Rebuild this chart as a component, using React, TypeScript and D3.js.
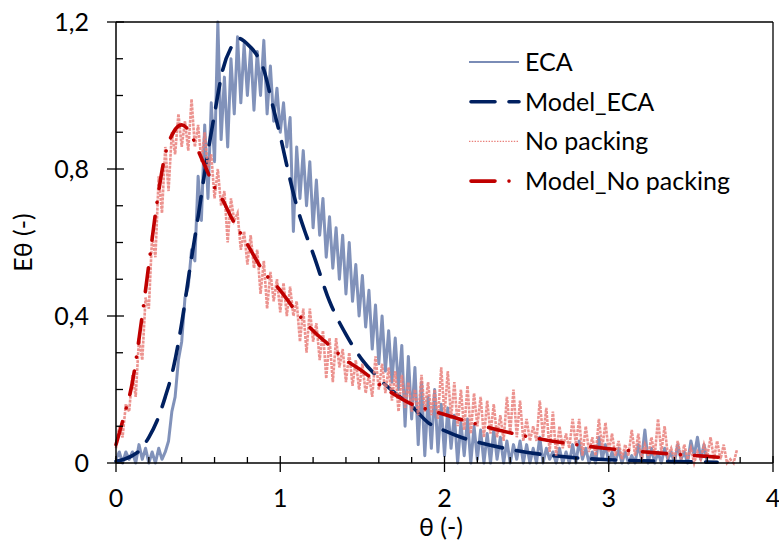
import React from "react";
import * as d3 from "d3";

// ---------- data ----------
const X_TICKS = [0, 1, 2, 3, 4];
const Y_TICKS = [0, 0.4, 0.8, 1.2];
const SERIES_NAMES = ["ECA", "Model_ECA", "No packing", "Model_No packing"];

// ECA experimental (theta = 0, 0.02, 0.04, ... 3.60)
const ECA_STEP = 0.02;
const ECA = [
  0.01, 0.03, 0.0, 0.03, 0.01, 0.03, 0.0, 0.05, 0.01, 0.04,
  0.0, 0.03, 0.0, 0.04, 0.01, 0.03, 0.06, 0.14, 0.18, 0.28,
  0.33, 0.45, 0.48, 0.58, 0.55, 0.78, 0.66, 0.92, 0.72, 0.98,
  0.82, 1.2, 0.88, 1.05, 0.86, 1.1, 0.95, 1.16, 0.98, 1.14,
  1.0, 1.13, 0.96, 1.12, 1.0, 1.15, 0.95, 1.08, 0.93, 1.02,
  0.9, 0.98, 0.86, 0.94, 0.63, 0.86, 0.72, 0.85, 0.7, 0.82,
  0.64, 0.77, 0.62, 0.72, 0.56, 0.67, 0.53, 0.64, 0.5, 0.62,
  0.46, 0.6, 0.44, 0.54, 0.4, 0.51, 0.37, 0.47, 0.31, 0.43,
  0.27, 0.4, 0.25, 0.36, 0.22, 0.34, 0.2, 0.32, 0.1, 0.29,
  0.12, 0.26, 0.05, 0.22, 0.02, 0.18, 0.04, 0.2, 0.03, 0.16,
  0.02, 0.15, 0.04, 0.13, 0.0, 0.11, 0.02, 0.12, 0.0, 0.1,
  0.01, 0.09, 0.0, 0.08, 0.0, 0.09, 0.01, 0.07, 0.0, 0.06,
  0.0, 0.05, 0.01, 0.06, 0.0, 0.05, 0.0, 0.04, 0.0, 0.07,
  0.0, 0.04, 0.01, 0.03, 0.0, 0.04, 0.0, 0.03, 0.0, 0.05,
  0.0, 0.06, 0.01, 0.04, 0.0, 0.03, 0.0, 0.07, 0.01, 0.05,
  0.0, 0.03, 0.0, 0.04, 0.0, 0.03, 0.0, 0.02, 0.0, 0.05,
  0.01, 0.09, 0.0, 0.04, 0.0, 0.03, 0.0, 0.04, 0.01, 0.03,
  0.0, 0.05, 0.01, 0.03, 0.0, 0.06, 0.02, 0.07, 0.01, 0.05,
  0.0,
];

// No packing experimental (theta = 0, 0.02, ... 3.78)
const NOPACK_STEP = 0.02;
const NOPACK = [
  0.04, 0.1, 0.07, 0.16, 0.14, 0.24, 0.18, 0.34, 0.28, 0.45,
  0.42, 0.62, 0.56, 0.78, 0.68, 0.86, 0.74, 0.9, 0.84, 0.95,
  0.86, 0.93, 0.85, 0.99, 0.86, 0.92, 0.82, 0.9, 0.8, 0.84,
  0.72, 0.8, 0.7, 0.74, 0.6, 0.72, 0.66, 0.68, 0.58, 0.63,
  0.54, 0.62, 0.53, 0.58, 0.46, 0.55, 0.42, 0.52, 0.44, 0.5,
  0.41, 0.49, 0.4, 0.48, 0.4, 0.44, 0.33, 0.42, 0.3, 0.42,
  0.33, 0.38, 0.28, 0.36, 0.23, 0.34, 0.22, 0.34, 0.26, 0.31,
  0.22, 0.3, 0.21, 0.28, 0.2, 0.27, 0.19, 0.24, 0.18, 0.29,
  0.2, 0.27, 0.19, 0.26, 0.17, 0.25, 0.14, 0.24, 0.15, 0.22,
  0.14, 0.2, 0.13, 0.24, 0.14, 0.22, 0.13, 0.2, 0.12, 0.26,
  0.13, 0.25, 0.12, 0.22, 0.1, 0.2, 0.09, 0.21, 0.08, 0.19,
  0.1, 0.18, 0.07, 0.17, 0.08, 0.16, 0.07, 0.13, 0.06, 0.18,
  0.08, 0.2, 0.07, 0.17, 0.06, 0.12, 0.06, 0.1, 0.06, 0.17,
  0.07, 0.15, 0.03, 0.14, 0.02, 0.1, 0.04, 0.08, 0.04, 0.12,
  0.05, 0.12, 0.02, 0.1, 0.03, 0.07, 0.02, 0.12, 0.04, 0.11,
  0.03, 0.08, 0.02, 0.06, 0.01, 0.05, 0.02, 0.09, 0.02, 0.08,
  0.01, 0.05, 0.02, 0.07, 0.02, 0.12, 0.03, 0.1, 0.02, 0.04,
  0.01, 0.06, 0.01, 0.05, 0.01, 0.04, 0.0, 0.03, 0.01, 0.05,
  0.02, 0.07, 0.01, 0.06, 0.01, 0.05, 0.0, 0.01, 0.0, 0.035,
];

// Model curves
const MODEL_ECA_THETA = [
  0, 0.05, 0.1, 0.15, 0.2, 0.25, 0.3, 0.35, 0.4, 0.45, 0.5, 0.55, 0.6, 0.65,
  0.7, 0.75, 0.8, 0.85, 0.9, 0.95, 1.0, 1.05, 1.1, 1.15, 1.2, 1.3, 1.4, 1.5,
  1.6, 1.7, 1.8, 1.9, 2.0, 2.1, 2.2, 2.4, 2.6, 2.8, 3.0, 3.2, 3.4, 3.66,
];
const MODEL_ECA = [
  0.005, 0.01, 0.02, 0.037, 0.07, 0.115, 0.18, 0.26, 0.38, 0.53, 0.67, 0.82,
  0.95, 1.07, 1.13, 1.155, 1.14, 1.115, 1.07, 0.98, 0.89, 0.79, 0.7, 0.63,
  0.57, 0.44, 0.35, 0.28, 0.23, 0.19, 0.155, 0.11, 0.088, 0.07, 0.057, 0.037,
  0.023, 0.014, 0.009, 0.006, 0.004, 0.002,
];
const MODEL_NP_THETA = [
  0, 0.05, 0.1, 0.15, 0.2, 0.25, 0.3, 0.35, 0.4, 0.45, 0.5, 0.55, 0.6, 0.65,
  0.7, 0.8, 0.9, 1.0, 1.1, 1.2, 1.3, 1.4, 1.5, 1.6, 1.7, 1.8, 1.9, 2.0, 2.2,
  2.4, 2.6, 2.8, 3.0, 3.2, 3.4, 3.6, 3.72,
];
const MODEL_NP = [
  0.05, 0.13, 0.22, 0.37, 0.54, 0.71, 0.84, 0.9, 0.92, 0.9, 0.85, 0.8, 0.75,
  0.715, 0.67, 0.595, 0.52, 0.47, 0.41, 0.36, 0.32, 0.28, 0.25, 0.215, 0.185,
  0.16, 0.145, 0.132, 0.105, 0.082, 0.064, 0.05, 0.039, 0.031, 0.024, 0.018,
  0.014,
];

// ---------- styles ----------
const FONT = "Lato, 'Liberation Sans', sans-serif";
const C_ECA = "#7a8cb6";
const C_MECA = "#002060";
const C_NP = "#e9807b";
const C_MNP = "#c00000";

const locale = d3.formatLocale({ decimal: ",", thousands: ".", grouping: [3], currency: ["", ""] });
const fmt = locale.format("~g");

export default function App() {
  const W = 779, H = 545;
  const x = d3.scaleLinear().domain([0, 4]).range([116, 773]);
  const y = d3.scaleLinear().domain([0, 1.2]).range([463, 22]);

  const ecaPts: [number, number][] = ECA.map((v, i) => [i * ECA_STEP, v]);
  const npPts: [number, number][] = NOPACK.map((v, i) => [i * NOPACK_STEP, v]);
  const mEcaPts: [number, number][] = MODEL_ECA.map((v, i) => [MODEL_ECA_THETA[i], v]);
  const mNpPts: [number, number][] = MODEL_NP.map((v, i) => [MODEL_NP_THETA[i], v]);

  const raw = d3.line<[number, number]>().x((d) => x(d[0])).y((d) => y(d[1]));
  const smooth = d3
    .line<[number, number]>()
    .x((d) => x(d[0]))
    .y((d) => y(d[1]))
    .curve(d3.curveMonotoneX);

  const xMinor = d3.range(0, 4.001, 0.2).filter((v) => Math.abs(v - Math.round(v)) > 1e-6);
  const yMinor = d3.range(0, 1.2001, 0.1).filter((v) => !Y_TICKS.some((t) => Math.abs(t - v) < 1e-6));

  const [x0, x1] = x.range();
  const [y0, y1] = y.range();

  const legendX = 469, legendW = 50, legendY0 = 62, legendDy = 39.7;
  const styles = [
    { stroke: C_ECA, width: 2, dash: undefined as string | undefined, cap: "butt" },
    { stroke: C_MECA, width: 3.6, dash: "24 14", cap: "round" },
    { stroke: C_NP, width: 1.4, dash: "1.4 1.4", cap: "butt" },
    { stroke: C_MNP, width: 3.6, dash: "24 14 0.01 14", cap: "round" },
  ];

  return (
    <svg width={W} height={H} style={{ position: "absolute", left: 0, top: 0, background: "#fff" }} fontFamily={FONT}>
      <rect x={0} y={0} width={W} height={H} fill="#fff" />
      {/* data */}
      <path d={raw(ecaPts) || ""} fill="none" stroke={C_ECA} strokeWidth={3} strokeOpacity={0.95} strokeLinejoin="round" />
      <path d={smooth(mEcaPts) || ""} fill="none" stroke={C_MECA} strokeWidth={3.6} strokeDasharray="24 14" strokeLinecap="round" />
      <path d={raw(npPts) || ""} fill="none" stroke={C_NP} strokeWidth={2.6} strokeDasharray="3 1" strokeOpacity={0.85} />
      <path d={smooth(mNpPts) || ""} fill="none" stroke={C_MNP} strokeWidth={3.6} strokeDasharray="24 14 0.01 14" strokeLinecap="round" />

      {/* frame */}
      <line x1={x0} x2={x1} y1={y1} y2={y1} stroke="#000" strokeWidth={1.3} />
      <line x1={x1} x2={x1} y1={y1} y2={y0} stroke="#000" strokeWidth={1.3} />
      <line x1={x0} x2={x1} y1={y0} y2={y0} stroke="#000" strokeWidth={1.5} />
      <line x1={x0} x2={x0} y1={y1} y2={y0} stroke="#000" strokeWidth={1.5} />

      {/* x ticks */}
      {X_TICKS.map((t) => (
        <g key={"xt" + t}>
          <line x1={x(t)} x2={x(t)} y1={y0 - 7} y2={y0 + 9} stroke="#000" strokeWidth={1.3} />
          <text x={x(t)} y={y0 + 44} textAnchor="middle" fontSize={25} fill="#000">{fmt(t)}</text>
        </g>
      ))}
      {xMinor.map((t) => (
        <line key={"xm" + t} x1={x(t)} x2={x(t)} y1={y0 - 6} y2={y0} stroke="#000" strokeWidth={1.3} />
      ))}
      {/* y ticks */}
      {Y_TICKS.map((t) => (
        <g key={"yt" + t}>
          <line x1={x0 - 9} x2={x0 + 8} y1={y(t)} y2={y(t)} stroke="#000" strokeWidth={1.3} />
          <text x={89} y={y(t) + 9} textAnchor="end" fontSize={25} fill="#000">{fmt(t)}</text>
        </g>
      ))}
      {yMinor.map((t) => (
        <line key={"ym" + t} x1={x0} x2={x0 + 7} y1={y(t)} y2={y(t)} stroke="#000" strokeWidth={1.3} />
      ))}

      {/* axis titles */}
      <text x={441} y={536} textAnchor="middle" fontSize={25} fill="#000">θ (-)</text>
      <text transform={`translate(32, ${(y0 + y1) / 2}) rotate(-90)`} textAnchor="middle" fontSize={25} fill="#000">Eθ (-)</text>

      {/* legend */}
      {SERIES_NAMES.map((name, i) => {
        const ly = legendY0 + i * legendDy;
        const s = styles[i];
        return (
          <g key={name}>
            <line x1={legendX + (s.cap === "round" ? 2 : 0)} x2={legendX + legendW} y1={ly} y2={ly} stroke={s.stroke} strokeWidth={s.width} strokeDasharray={s.dash} strokeLinecap={s.cap as any} />
            <text x={525} y={ly + 9} fontSize={25} fill="#000">{name}</text>
          </g>
        );
      })}
    </svg>
  );
}
